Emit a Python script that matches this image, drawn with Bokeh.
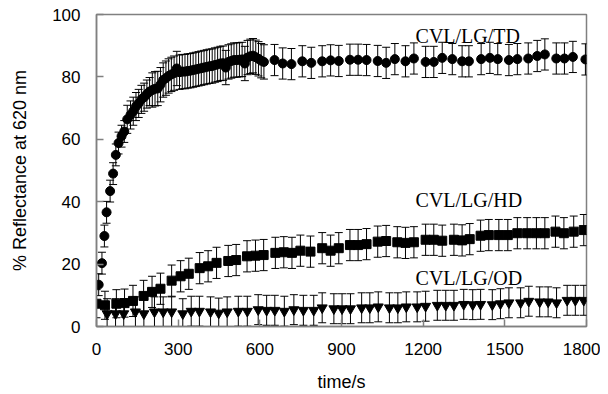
from bokeh.plotting import figure
from bokeh.models import ColumnDataSource, Whisker, TeeHead, FixedTicker
from bokeh.embed import file_html
from bokeh.resources import INLINE
from bokeh.core.properties import value

# ---- data ----
td_t = [8, 20, 29, 37, 50, 61, 71, 81, 92, 102, 113, 125, 135, 145, 155, 165, 175, 185, 195, 205,
        215, 225, 235, 245, 255, 265, 275, 285, 295, 305, 315, 325, 335, 345, 355, 365, 375, 385,
        395, 405, 415, 425, 435, 445, 455, 465, 475, 485, 495, 505, 515, 525, 535, 545, 555, 565,
        575, 585, 595, 605, 615,
        654, 684, 716, 756, 789, 829, 860, 890, 931, 961, 992, 1033, 1064, 1096, 1135, 1166, 1209,
        1239, 1270, 1307, 1343, 1368, 1413, 1445, 1474, 1515, 1546, 1586, 1619, 1647, 1689, 1719,
        1750, 1796]
td_v = [13.4, 20.3, 29.0, 36.6, 43.4, 49.0, 55.0, 58.8, 61.0, 62.5, 66.4, 67.8, 69.0, 70.5, 71.5,
        72.8, 73.5, 74.5, 75.3, 75.8, 76.2, 76.3, 77.5, 79.0, 79.6, 80.3, 80.8, 81.2, 82.7, 81.5,
        81.7, 81.7, 81.9, 82.0, 82.2, 82.4, 82.6, 82.8, 83.0, 83.2, 83.4, 83.5, 83.8, 84.0, 84.3,
        84.4, 83.0, 84.8, 85.1, 85.4, 85.4, 85.5, 85.6, 84.3, 86.2, 86.6, 86.8, 86.3, 85.8, 85.2,
        84.8,
        85.4, 84.3, 84.1, 85.0, 84.5, 85.0, 85.3, 85.1, 85.5, 85.5, 85.4, 85.1, 84.5, 85.7, 85.0,
        85.9, 84.8, 84.8, 86.1, 85.7, 85.0, 85.0, 85.7, 86.1, 85.7, 85.4, 85.7, 85.9, 86.7, 87.2,
        85.9, 85.9, 86.4, 85.6]
td_e = [3.5, 3.5, 3.5, 3.5, 3.5, 3.5, 3.5, 3.5, 3.5, 3.5, 4.5, 4.5, 4.5, 4.5, 4.5, 4.5, 4.5, 4.5,
        4.5, 5.5, 5.5, 5.5, 5.5, 5.5, 5.5, 5.5, 5.5, 5.5, 5.5, 5.5, 5.5, 5.5, 5.5, 5.5, 5.5, 5.5,
        5.5, 5.5, 5.5, 5.5, 5.5, 5.5, 5.5, 5.5, 5.5, 5.5, 5.5, 5.5, 5.5, 5.5, 5.5, 5.5, 5.5, 5.5,
        5.5, 5.5, 5.5, 5.5, 5.5, 5.5, 5.5,
        5.0, 5.0, 5.0, 5.0, 5.0, 5.0, 5.0, 5.0, 5.0, 5.0, 5.0, 5.0, 5.0, 5.0, 5.0, 5.0, 5.0, 5.0,
        5.0, 5.0, 5.0, 5.0, 5.0, 5.0, 5.0, 5.0, 5.0, 5.0, 5.0, 5.0, 5.0, 5.0, 5.0, 5.0]

hd_t = [0, 31, 73, 103, 134, 173, 204, 235, 276, 309, 339, 379, 410, 441, 484, 513, 553, 584, 614,
        657, 688, 718, 749, 786, 829, 860, 890, 931, 961, 992, 1033, 1064, 1105, 1135, 1166, 1209,
        1239, 1270, 1313, 1343, 1371, 1411, 1441, 1478, 1511, 1546, 1582, 1616, 1647, 1686, 1717,
        1753, 1790]
hd_v = [7.3, 6.8, 7.3, 7.5, 8.2, 9.8, 11.1, 12.1, 14.7, 16.1, 16.9, 18.7, 19.3, 20.4, 21.0, 21.3,
        22.5, 22.7, 22.9, 23.6, 23.8, 23.6, 24.3, 24.0, 25.1, 24.3, 25.1, 26.1, 26.1, 26.4, 27.2,
        27.4, 27.0, 26.8, 27.0, 27.8, 27.8, 27.5, 27.8, 27.6, 28.0, 29.1, 29.3, 29.3, 29.3, 29.9,
        29.9, 29.9, 29.9, 30.4, 29.9, 30.4, 30.9]
hd_e = [4.5, 4.5, 4.5, 4.5, 5.0, 5.0, 5.0, 5.0, 5.0, 5.0, 5.0, 5.0, 5.0, 5.0, 5.0, 5.0, 5.0, 5.0,
        5.0, 5.0, 5.0, 5.0, 5.0, 5.0, 5.0, 5.0, 5.0, 5.0, 5.0, 5.0, 5.0, 5.0, 5.0, 5.0, 5.0, 5.0,
        5.0, 5.0, 5.0, 5.0, 5.0, 5.0, 5.0, 5.0, 5.0, 5.0, 5.0, 5.0, 5.0, 5.0, 5.0, 5.0, 5.0]

od_t = [39, 70, 100, 143, 174, 213, 245, 276, 317, 348, 378, 419, 449, 480, 521, 554, 594, 625, 655,
        690, 725, 760, 798, 829, 872, 902, 933, 974, 1004, 1035, 1076, 1107, 1138, 1178, 1209,
        1252, 1283, 1313, 1349, 1382, 1411, 1454, 1484, 1515, 1558, 1588, 1628, 1659, 1690, 1729,
        1759, 1790]
od_v = [4.1, 4.1, 4.1, 4.7, 4.1, 4.7, 4.7, 4.7, 4.1, 4.9, 4.9, 4.7, 4.3, 4.7, 4.9, 4.9, 5.4, 5.2,
        5.2, 4.9, 5.4, 5.2, 5.2, 6.0, 5.7, 5.7, 5.7, 6.0, 6.0, 6.3, 6.0, 6.0, 6.3, 6.3, 6.5, 6.8,
        6.8, 6.8, 7.1, 7.0, 7.1, 7.0, 7.3, 7.6, 7.6, 8.1, 7.9, 7.9, 7.6, 8.4, 8.4, 8.4]
od_e = [4.8, 4.8, 4.8, 4.8, 4.8, 4.8, 4.8, 4.8, 4.8, 4.8, 4.8, 4.8, 4.8, 4.8, 4.8, 4.8, 4.8,
        4.8, 4.8, 4.8, 4.8, 4.8, 4.8, 4.8, 4.8, 4.8, 4.8, 4.8, 4.8, 4.8, 4.8, 4.8, 4.8, 4.8,
        4.8, 4.8, 4.8, 4.8, 4.8, 4.8, 4.8, 4.8, 4.8, 4.8, 4.8, 4.8, 4.8, 4.8, 4.8, 4.8, 4.8, 4.8]

series_labels = ["CVL/LG/TD", "CVL/LG/HD", "CVL/LG/OD"]
x_ticks = [0, 300, 600, 900, 1200, 1500, 1800]
y_ticks = [0, 20, 40, 60, 80, 100]

# label anchors (data units)
label_x = [1172, 1172, 1172]
label_y = [93.0, 40.5, 15.5]

GRAY = "#808080"

p = figure(width=600, height=394, output_backend="svg", toolbar_location=None,
           x_range=(0, 1800), y_range=(0, 100),
           min_border_left=96, min_border_right=14, min_border_top=14, min_border_bottom=66)
p.xgrid.visible = False
p.ygrid.visible = False
p.outline_line_color = GRAY
p.outline_line_width = 1.5
p.background_fill_color = "white"
p.border_fill_color = "white"

for ax in (p.xaxis[0], p.yaxis[0]):
    ax.axis_line_color = GRAY
    ax.axis_line_width = 1.5
    ax.major_tick_line_color = GRAY
    ax.major_tick_line_width = 1.5
    ax.major_tick_in = 7
    ax.major_tick_out = 0
    ax.minor_tick_line_color = None
    ax.major_label_text_font = "Liberation Sans"
    ax.major_label_text_font_size = "17px"
    ax.major_label_text_color = "black"
    ax.axis_label_text_font = "Liberation Sans"
    ax.axis_label_text_font_size = "18px"
    ax.axis_label_text_font_style = "normal"
    ax.axis_label_text_color = "black"

p.xaxis.ticker = FixedTicker(ticks=x_ticks)
p.yaxis.ticker = FixedTicker(ticks=y_ticks)
p.xaxis.axis_label = "time/s"
p.yaxis.axis_label = "% Reflectance at 620 nm"
p.xaxis.major_label_standoff = 16
p.yaxis.major_label_standoff = 16
p.xaxis.axis_label_standoff = 14
p.yaxis.axis_label_standoff = 19

def add_series(t, v, e, marker, size):
    src = ColumnDataSource(dict(t=t, v=v,
                                up=[a + b for a, b in zip(v, e)],
                                lo=[a - b for a, b in zip(v, e)]))
    w = Whisker(base="t", upper="up", lower="lo", source=src, dimension="height",
                line_color="black", line_width=1,
                upper_head=TeeHead(size=8, line_color="black", line_width=1),
                lower_head=TeeHead(size=8, line_color="black", line_width=1))
    p.add_layout(w)
    p.scatter("t", "v", source=src, marker=marker, size=size,
              fill_color="black", line_color="black")

add_series(td_t, td_v, td_e, "circle", 9)
add_series(hd_t, hd_v, hd_e, "square", 9)
add_series(od_t, od_v, od_e, "inverted_triangle", 10)

lab_src = ColumnDataSource(dict(x=label_x, y=label_y, text=series_labels))
p.text("x", "y", text="text", source=lab_src, text_font=value("Liberation Serif"),
       text_font_size="20px", text_color="black", text_align="left",
       text_baseline="alphabetic")

open("out.html", "w").write(file_html(p, INLINE))
